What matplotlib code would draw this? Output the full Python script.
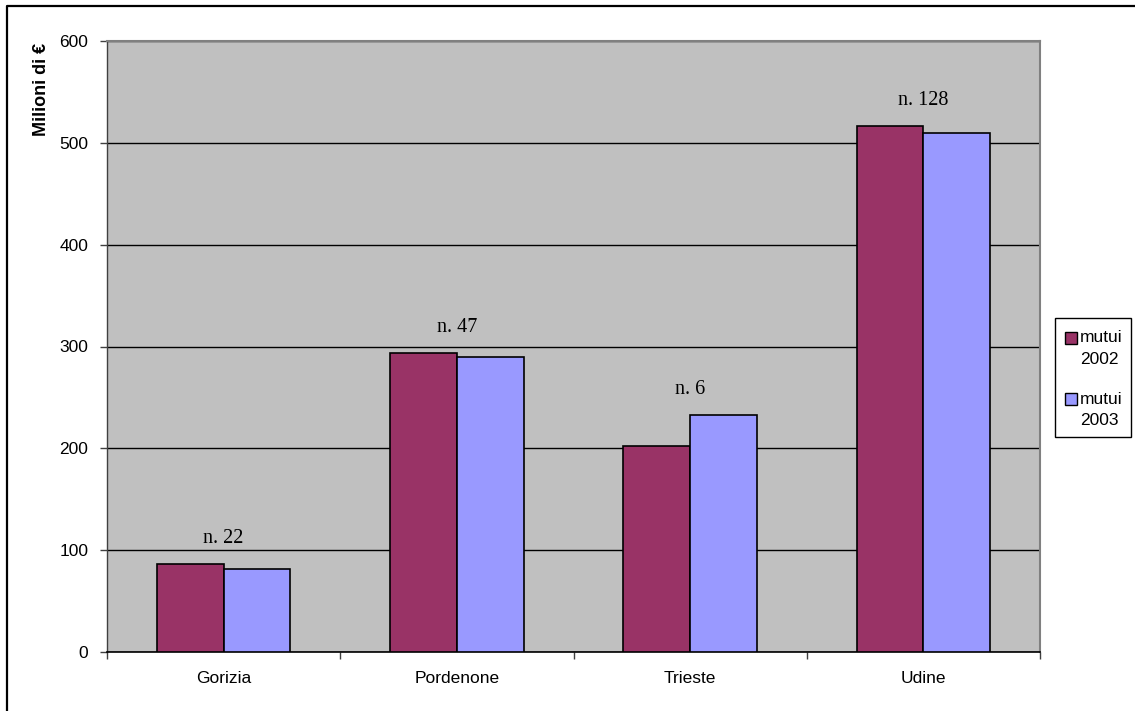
import matplotlib
matplotlib.use("Agg")
import matplotlib.pyplot as plt
from matplotlib.patches import Rectangle
from matplotlib.lines import Line2D
import numpy as np

# Mortgage amounts by province (millions of euro)
province = ["Gorizia", "Pordenone", "Trieste", "Udine"]
mutui_2002 = [86.4, 293.9, 202.0, 516.2]
mutui_2003 = [81.2, 289.4, 232.4, 510.0]
numero = ["n. 22", "n. 47", "n. 6", "n. 128"]
serie = [("mutui", "2002"), ("mutui", "2003")]
y_ticks = [0, 100, 200, 300, 400, 500, 600]

col_2002 = "#993366"
col_2003 = "#9999FF"

W, H = 1135, 711
fig = plt.figure(figsize=(W / 100, H / 100), dpi=100)
fig.patch.set_facecolor("white")

ax = fig.add_axes([107 / W, 1 - 652 / H, 933 / W, 611 / H])
ax.set_facecolor("#C0C0C0")

x = np.arange(len(province))
bw = 1 / 3.5
ax.bar(x - bw / 2, mutui_2002, bw, color=col_2002, edgecolor="black", linewidth=1.2, zorder=3)
ax.bar(x + bw / 2, mutui_2003, bw, color=col_2003, edgecolor="black", linewidth=1.2, zorder=3)

for xi, a, b, t in zip(x, mutui_2002, mutui_2003, numero):
    ax.text(xi, max(a, b) + 25, t, ha="center", va="center",
            fontfamily="Liberation Serif", fontsize=14.5, color="black", zorder=4)

ax.set_xlim(-0.5, len(province) - 0.5)
ax.set_ylim(0, 600)
ax.set_yticks(y_ticks)
ax.set_yticklabels([str(v) for v in y_ticks], fontfamily="Liberation Sans", fontsize=12.5)
ax.yaxis.grid(True, color="black", linewidth=1.0, zorder=1)
ax.set_axisbelow(True)
ax.tick_params(axis="y", direction="out", length=5, width=1, color="#404040", pad=8.5)

ax.set_xticks(x)
ax.set_xticklabels(province, fontfamily="Liberation Sans", fontsize=12.5)
ax.set_xticks(np.arange(-0.5, len(province), 1.0), minor=True)
ax.tick_params(axis="x", which="major", length=0, pad=14)
ax.tick_params(axis="x", which="minor", direction="out", length=5, width=1, color="#404040")

for side in ["top", "right"]:
    ax.spines[side].set_color("#808080")
    ax.spines[side].set_linewidth(1.5)
ax.spines["left"].set_color("#404040")
ax.spines["bottom"].set_color("black")
ax.spines["left"].set_linewidth(1.0)
ax.spines["bottom"].set_linewidth(1.2)

fig.text(42 / W, 1 - 89 / H, "Milioni di €", rotation=90, ha="center", va="center",
         fontfamily="Liberation Sans", fontweight="bold", fontsize=13)

# Outer chart border: top and left edges
fig.add_artist(Line2D([7 / W, 7 / W, 1.0], [0.0, 1 - 5.5 / H, 1 - 5.5 / H],
                      transform=fig.transFigure, color="black", linewidth=1.6))

# Legend box
fig.add_artist(Rectangle((1055 / W, 1 - 437 / H), 76 / W, 119 / H, transform=fig.transFigure,
                         facecolor="white", edgecolor="black", linewidth=1.0))
for i, ((l1, l2), c) in enumerate(zip(serie, [col_2002, col_2003])):
    top = 332 + i * 61
    fig.add_artist(Rectangle((1065 / W, 1 - (top + 12) / H), 12 / W, 12 / H,
                             transform=fig.transFigure, facecolor=c,
                             edgecolor="black", linewidth=1.0))
    fig.text(1080 / W, 1 - (top + 6) / H, l1, ha="left", va="center",
             fontfamily="Liberation Sans", fontsize=12.5)
    fig.text(1080 / W, 1 - (top + 28) / H, l2, ha="left", va="center",
             fontfamily="Liberation Sans", fontsize=12.5)

fig.savefig("out.png", dpi=100)
